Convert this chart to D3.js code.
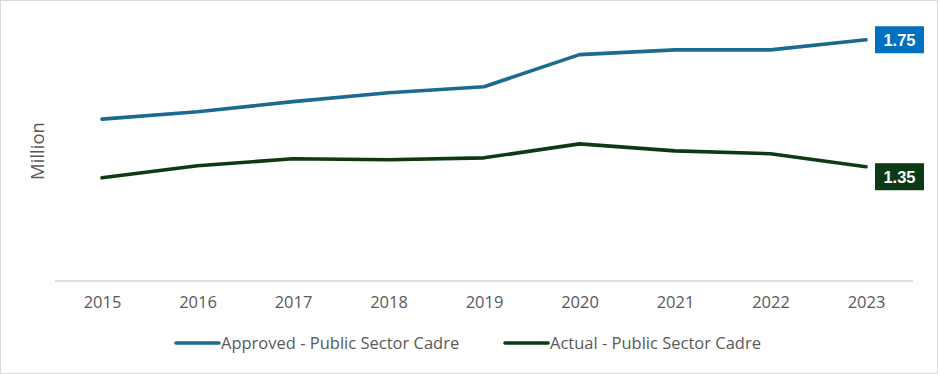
<!DOCTYPE html>
<html><head><meta charset="utf-8">
<script src="https://cdn.jsdelivr.net/npm/d3@7"></script>
<style>body{margin:0;background:#fff;}svg{display:block;font-family:"Open Sans",sans-serif;}</style>
</head><body><svg id="c" width="938" height="374"></svg>
<script>
const years = ["2015","2016","2017","2018","2019","2020","2021","2022","2023"];
const approved = [1.50, 1.523, 1.555, 1.583, 1.602, 1.703, 1.718, 1.718, 1.75];
const actual = [1.315, 1.353, 1.375, 1.372, 1.378, 1.422, 1.40, 1.391, 1.35];
const seriesNames = ["Approved - Public Sector Cadre", "Actual - Public Sector Cadre"];
const endLabels = ["1.75", "1.35"];
const colors = ["#1B6A8F", "#0C3A14"];
const labelFills = ["#0070C0", "#0C3A14"];

const svg = d3.select("#c");
svg.append("rect").attr("x",0.5).attr("y",0.5).attr("width",937).attr("height",373)
  .attr("fill","#fff").attr("stroke","#D9D9D9");

const x = d3.scalePoint().domain(years).range([102, 866]);
const y = d3.scaleLinear().domain([0.99, 1.85]).range([281, 8]);

const xAxis = d3.axisBottom(x).tickSize(0).tickPadding(15);
const gx = svg.append("g").attr("transform",`translate(0,${y(0.99)})`).call(xAxis);
gx.select(".domain").attr("d","M55,0H913").attr("stroke","#D9D9D9").attr("stroke-width",1.5);
gx.selectAll("text").attr("fill","#595959").attr("font-size",16.5).attr("font-family","Open Sans, sans-serif");

svg.append("text").attr("transform","translate(44,151) rotate(-90)")
  .attr("text-anchor","middle").attr("fill","#595959").attr("font-size",18.5).text("Million");

const line = d3.line().x((d,i)=>x(years[i])).y(d=>y(d));
[approved, actual].forEach((s,k)=>{
  svg.append("path").datum(s).attr("d",line).attr("fill","none")
    .attr("stroke",colors[k]).attr("stroke-width",3.6).attr("stroke-linecap","round").attr("stroke-linejoin","round");
});

const labelY = [y(approved[8]), y(actual[8]) + 10];
endLabels.forEach((t,k)=>{
  const cx = x(years[8]) + 9;
  const cy = labelY[k];
  svg.append("rect").attr("x",cx).attr("y",cy-13.5).attr("width",49).attr("height",27).attr("fill",labelFills[k]);
  svg.append("text").attr("x",cx+24.5).attr("y",cy+6).attr("text-anchor","middle")
    .attr("fill","#fff").attr("font-weight","bold").attr("font-size",16.5).attr("font-family","Liberation Sans, Arial, sans-serif").text(t);
});

const legX = [176, 505];
seriesNames.forEach((n,k)=>{
  const g = svg.append("g").attr("transform",`translate(${legX[k]},343)`);
  g.append("line").attr("x1",0).attr("x2",43).attr("stroke",colors[k]).attr("stroke-width",3.6).attr("stroke-linecap","round");
  g.append("text").attr("x",45).attr("y",6).attr("fill","#595959").attr("font-size",16.5).text(n);
});
</script></body></html>
